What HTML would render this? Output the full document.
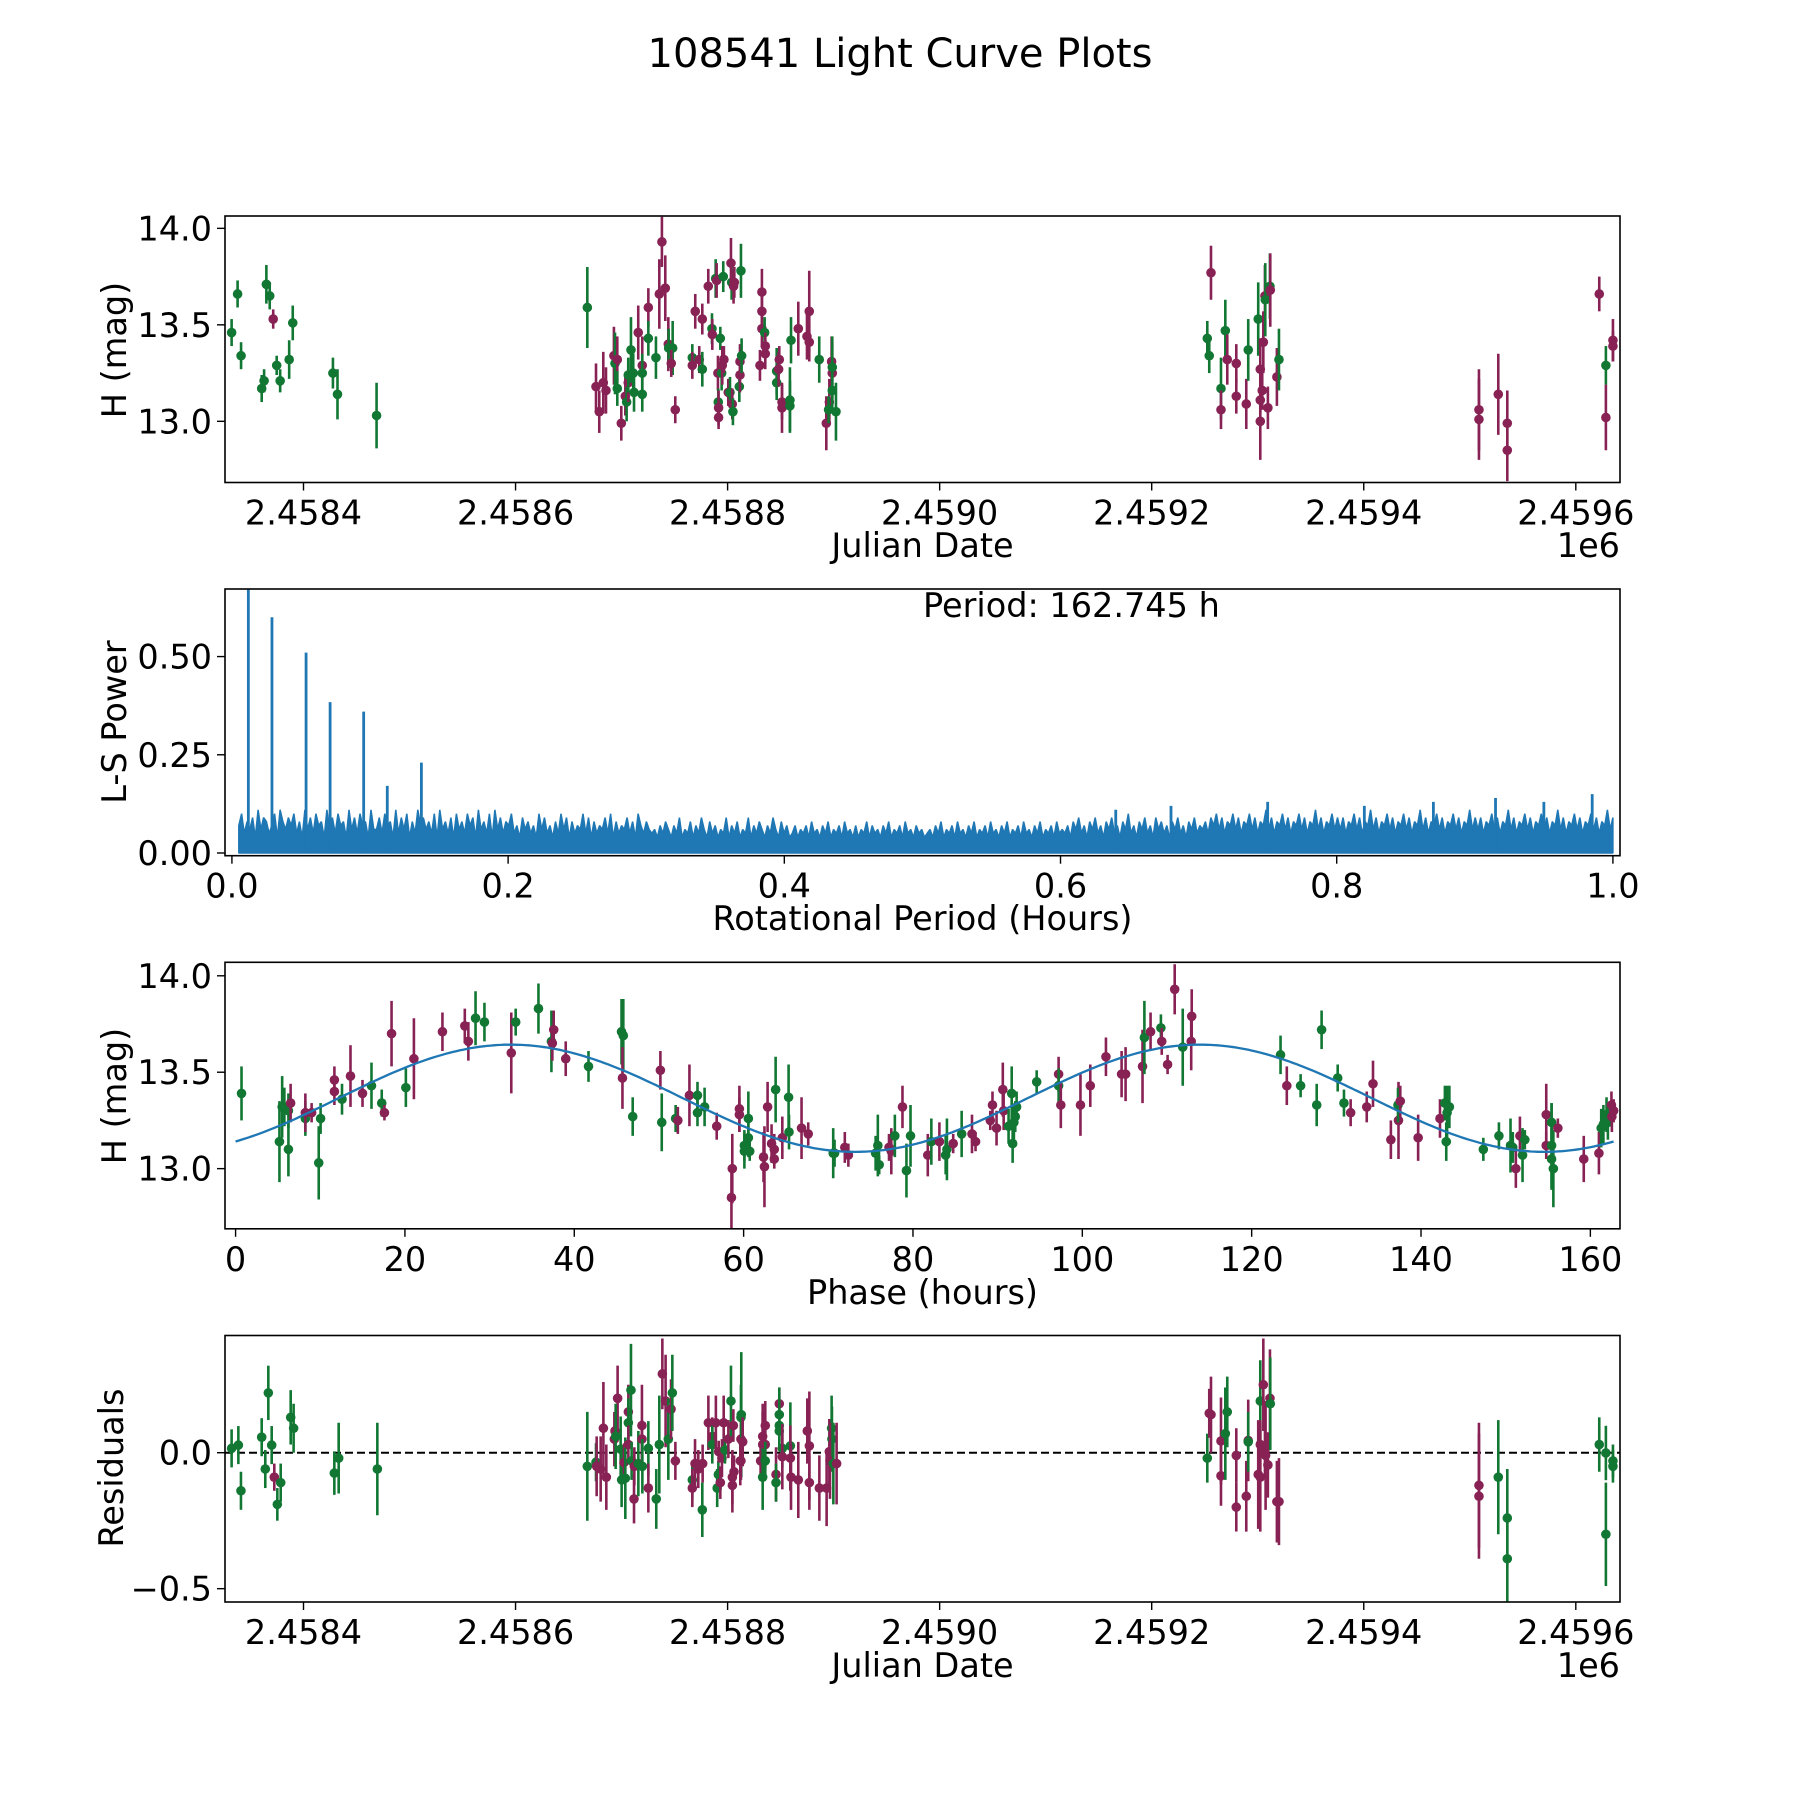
<!DOCTYPE html>
<html><head><meta charset="utf-8"><title>108541 Light Curve Plots</title>
<style>
html,body{margin:0;padding:0;background:#fff;}
svg{display:block;font-family:"DejaVu Sans","Liberation Sans",sans-serif;}
</style></head>
<body>
<svg id="fig" xmlns="http://www.w3.org/2000/svg" width="1800" height="1800" viewBox="0 0 1800 1800">
<rect x="0" y="0" width="1800" height="1800" fill="#fff"/>
<text x="900" y="67" font-size="40" text-anchor="middle" fill="#000">108541 Light Curve Plots</text>
</svg>
<script>
// ---------- Panel 1: light curve (JD offset) ----------
const lcDay = [349.0,354.5,357.7,376.7,378.9,381.0,384.1,387.3,390.5,393.7,402.0,405.3,442.3,446.5,482.5,
676.6,684.6,687.6,691.3,693.8,701.1,702.1,704.2,704.2,707.9,711.6,712.8,714.3,714.3,716.8,718.9,719.6,723.5,727.2,727.2,727.2,732.8,732.8,739.8,742.9,745.3,748.4,751.2,751.5,755.2,753.9,757.6,
773.3,773.3,776.0,779.7,782.5,782.5,788.0,791.4,791.7,794.8,795.7,796.9,797.2,797.5,797.5,799.1,800.3,800.9,801.8,802.4,806.4,808.0,809.5,808.9,810.1,810.7,811.3,812.0,816.6,817.2,817.2,818.1,818.7,
835.6,837.4,837.4,837.4,839.9,840.5,840.5,851.0,851.0,852.8,853.4,855.9,855.9,863.2,863.2,864.2,870.9,878.9,881.0,881.0,890.2,899.5,901.6,902.2,902.2,902.2,896.7,905.6,898.8,
1247.6,1249.4,1251.0,1260.2,1260.2,1264.2,1266.0,1274.3,1274.3,1283.5,1285.3,1294.5,1296.4,1296.4,1296.4,1298.2,1299.2,1300.7,1301.0,1303.4,1305.3,1305.6,1311.7,1313.6,
1497.8,1497.8,1515.6,1523.9,1523.9,1608.6,1614.7,1614.7,1621.2,1621.2];
const lcMag = [13.46,13.66,13.34,13.17,13.21,13.71,13.65,13.53,13.29,13.21,13.32,13.51,13.25,13.14,13.03,
13.59,13.18,13.05,13.20,13.16,13.34,13.30,13.32,13.17,12.99,13.13,13.10,13.20,13.24,13.37,13.25,13.15,13.46,13.29,13.25,13.14,13.59,13.43,13.33,13.66,13.93,13.69,13.40,13.38,13.38,13.30,13.06,
13.33,13.29,13.57,13.32,13.53,13.27,13.70,13.48,13.45,13.74,13.73,13.25,13.10,13.07,13.02,13.43,13.25,13.29,13.75,13.32,13.15,13.15,13.72,13.82,13.09,13.05,13.70,13.72,13.18,13.24,13.31,13.78,13.34,
13.29,13.67,13.57,13.48,13.46,13.39,13.35,13.26,13.20,13.27,13.32,13.10,13.07,13.11,13.08,13.42,13.48,13.44,13.57,13.41,13.32,13.10,13.31,13.25,13.28,13.16,12.99,13.05,13.06,
13.43,13.34,13.77,13.17,13.06,13.47,13.32,13.30,13.13,13.09,13.37,13.53,13.27,13.11,13.00,13.16,13.41,13.65,13.63,13.07,13.70,13.68,13.23,13.32,
13.06,13.01,13.14,12.99,12.85,13.66,13.29,13.02,13.42,13.39];
const lcErr = [0.07,0.07,0.07,0.07,0.06,0.10,0.07,0.05,0.05,0.06,0.10,0.09,0.08,0.13,0.17,
0.21,0.12,0.11,0.16,0.12,0.15,0.16,0.12,0.09,0.09,0.10,0.10,0.10,0.09,0.17,0.10,0.10,0.14,0.15,0.10,0.09,0.10,0.09,0.11,0.18,0.13,0.17,0.14,0.10,0.14,0.07,0.07,
0.07,0.07,0.09,0.07,0.08,0.09,0.09,0.08,0.08,0.10,0.09,0.09,0.07,0.09,0.06,0.06,0.09,0.10,0.08,0.07,0.07,0.08,0.09,0.13,0.08,0.07,0.09,0.08,0.08,0.09,0.09,0.14,0.09,
0.08,0.12,0.09,0.09,0.08,0.07,0.08,0.12,0.09,0.09,0.07,0.09,0.13,0.17,0.13,0.12,0.14,0.12,0.21,0.10,0.12,0.12,0.13,0.16,0.16,0.10,0.14,0.15,0.07,
0.09,0.09,0.14,0.16,0.10,0.16,0.13,0.10,0.09,0.13,0.16,0.19,0.16,0.07,0.20,0.10,0.16,0.16,0.19,0.11,0.17,0.19,0.15,0.16,
0.21,0.21,0.21,0.17,0.16,0.09,0.10,0.17,0.11,0.08];
const lcBand = "gggggggmggggggg"+"gmmmmmgmgmmgmggggmmggmggmmmmggmm"+"gmmmmgmgmgmmgmmggmgmmggmmgmmgmmggm"+"mmmgmmggmmmmgggmmmmgmmmggmgggg"+"mgmgmmmmggmmmmmmgmgmmgmmmm"+"mmgmmmmgmgm";

// ---------- Panel 2: Lomb-Scargle periodogram ----------
const lsNoiseDigits = "58364729476358296475836294738562947385629473856294"+
"47385629374826395746382946372846385729463829473658"+
"35274635284735263847263548372635473826354736285364"+
"34253642537243625374263524372536243725364253742635"+
"23524352634253624352634252436253425362435263425342"+
"34253624352634253624352634253624352634253624352634"+
"35264735264735264735264835264735274635264735264735"+
"46375847365847365847365947365847365847365947365847"+
"47365847365947365847365847365947365847365847365947"+
"47365847365947365847365847365947365847365847365947";
const lsSpikePeriod = [0.0119,0.0290,0.0537,0.0711,0.0954,0.1125,0.1372,0.985,0.915,0.87,0.75,0.68,0.64,0.82,0.95];
const lsSpikePower = [0.70,0.60,0.51,0.384,0.36,0.171,0.23,0.15,0.14,0.13,0.13,0.12,0.11,0.12,0.13];

// ---------- Panel 3: phased light curve ----------
const phHours = [0.70,5.18,5.50,5.76,6.24,6.24,6.50,8.24,8.24,8.98,9.82,10.04,11.67,11.67,12.57,13.57,14.99,16.05,17.26,17.58,18.42,20.11,21.06,24.43,27.07,27.49,28.34,29.39,32.56,33.08,35.77,37.30,37.41,37.57,38.99,41.68,45.58,45.79,45.69,46.90,50.17,50.33,51.97,52.23,53.60,54.55,54.55,55.39,56.82,58.66,58.56,59.50,59.50,60.09,60.09,60.56,60.56,60.72,62.35,62.46,62.83,63.30,63.62,63.62,63.78,64.57,65.31,65.36,66.84,67.63,70.58,70.74,71.95,72.37,75.59,75.85,76.01,77.17,77.44,77.86,78.76,79.23,79.71,
81.75,82.17,83.12,83.86,84.01,84.75,85.75,86.97,87.39,89.13,89.39,89.87,90.61,90.71,91.29,91.66,91.77,91.92,92.08,92.24,94.61,97.20,97.20,97.46,99.78,100.94,102.79,104.64,105.11,107.11,107.33,108.06,109.28,109.38,110.07,110.91,111.86,112.86,112.92,123.41,124.15,125.78,127.68,128.26,130.16,130.90,131.69,133.59,134.33,136.44,137.34,137.28,137.55,139.66,142.24,142.82,142.98,143.08,143.35,147.36,149.20,150.57,150.84,151.20,151.68,151.99,152.26,154.79,154.79,155.42,155.42,155.42,155.63,156.16,159.22,161.01,161.28,161.54,161.91,162.07,162.49,162.54,162.75];
const phMag = [13.39,13.14,13.32,13.32,13.10,13.30,13.34,13.26,13.29,13.29,13.03,13.26,13.46,13.40,13.36,13.48,13.39,13.43,13.34,13.29,13.70,13.42,13.57,13.71,13.74,13.66,13.78,13.76,13.60,13.76,13.83,13.66,13.65,13.72,13.57,13.53,13.71,13.69,13.47,13.27,13.51,13.24,13.26,13.25,13.38,13.38,13.29,13.32,13.22,13.00,12.85,13.31,13.28,13.12,13.09,13.26,13.16,13.09,13.06,13.01,13.32,13.13,13.10,13.05,13.41,13.16,13.37,13.19,13.21,13.18,13.08,13.08,13.11,13.07,13.08,13.12,13.02,13.11,13.09,13.17,13.32,12.99,13.17,
13.07,13.14,13.14,13.07,13.10,13.13,13.18,13.18,13.14,13.25,13.33,13.21,13.41,13.30,13.22,13.39,13.13,13.24,13.27,13.32,13.45,13.49,13.43,13.33,13.33,13.43,13.58,13.49,13.49,13.53,13.68,13.71,13.73,13.66,13.54,13.93,13.63,13.66,13.79,13.59,13.43,13.43,13.33,13.72,13.47,13.34,13.29,13.32,13.44,13.15,13.25,13.33,13.35,13.16,13.26,13.34,13.14,13.29,13.32,13.10,13.17,13.12,13.11,13.00,13.17,13.07,13.15,13.12,13.28,13.24,13.12,13.05,13.00,13.21,13.05,13.08,13.21,13.23,13.28,13.24,13.33,13.27,13.30];
const phErr = [0.14,0.21,0.16,0.10,0.14,0.09,0.10,0.09,0.10,0.05,0.19,0.08,0.07,0.07,0.08,0.16,0.07,0.12,0.07,0.04,0.17,0.10,0.21,0.10,0.09,0.10,0.14,0.10,0.21,0.07,0.13,0.16,0.09,0.10,0.09,0.08,0.17,0.19,0.16,0.10,0.10,0.15,0.07,0.07,0.16,0.07,0.07,0.10,0.07,0.18,0.16,0.12,0.09,0.08,0.09,0.14,0.10,0.05,0.13,0.21,0.13,0.10,0.08,0.05,0.17,0.11,0.17,0.09,0.16,0.06,0.13,0.07,0.08,0.06,0.09,0.16,0.05,0.07,0.12,0.11,0.11,0.14,0.16,
0.11,0.12,0.10,0.10,0.16,0.05,0.12,0.10,0.05,0.05,0.07,0.09,0.14,0.10,0.09,0.14,0.10,0.09,0.08,0.08,0.06,0.09,0.09,0.12,0.16,0.11,0.10,0.12,0.14,0.19,0.19,0.10,0.07,0.07,0.05,0.13,0.20,0.15,0.14,0.10,0.10,0.06,0.11,0.10,0.07,0.07,0.07,0.08,0.12,0.10,0.20,0.09,0.08,0.12,0.10,0.09,0.10,0.14,0.11,0.06,0.07,0.14,0.08,0.10,0.10,0.14,0.05,0.07,0.16,0.10,0.22,0.16,0.20,0.05,0.12,0.11,0.10,0.10,0.09,0.09,0.07,0.08,0.06];
const phBand = "ggggggmgmmggmmgmmggmmgmmmmggmgggmmmgggmgmggmmgggmmmmmgggggmmmmmmgmggmmggmmgggmmgmgg"+
"mgmggmgmmmmmmmgggggggmgmmmmmmmgmgmmmgmmgmgggggmmmmmgmmmggggggggmmggmmggggmmmggggmmm";
const modelMean = 13.365, modelAmp = 0.278, modelPeakHour = 32.5, modelCycleHours = 81.37, modelSpan = 162.745;

// ---------- Panel 4: residuals ----------
const resDay = [349.0,355.2,357.6,376.7,380.0,382.8,385.9,388.3,391.1,394.2,403.4,406.1,443.6,447.6,483.2,
676.6,684.6,685.2,688.9,691.4,694.1,701.5,702.1,704.5,702.7,707.3,708.2,710.4,711.6,714.4,714.4,714.4,716.8,717.4,719.6,719.9,723.6,726.9,726.9,727.3,732.8,732.8,740.1,742.9,745.7,748.7,751.2,753.7,754.9,757.7,
773.3,773.3,775.8,778.8,782.5,782.8,788.1,791.7,791.7,795.0,796.2,797.3,797.6,799.1,800.6,802.2,803.4,806.5,808.9,810.2,810.2,811.1,811.7,817.5,818.1,818.1,
818.4,819.7,818.1,836.2,838.1,838.1,838.1,840.5,840.5,840.5,850.4,850.4,853.4,853.4,853.4,853.4,856.2,856.2,863.6,863.6,864.2,870.9,879.2,881.1,881.1,890.3,897.0,899.5,901.6,901.9,900.1,903.2,906.2,
1247.6,1249.4,1251.0,1260.2,1260.2,1264.2,1266.0,1274.3,1274.3,1283.5,1285.3,1285.3,1294.5,1296.4,1296.4,1296.4,1299.2,1300.7,1301.3,1303.4,1305.3,1305.6,1311.7,1313.6,
1497.8,1497.8,1515.6,1523.9,1523.9,1608.6,1614.7,1614.7,1621.2,1621.2];
const resVal = [0.016,0.028,-0.14,0.057,-0.06,0.22,0.028,-0.09,-0.19,-0.11,0.13,0.09,-0.075,-0.02,-0.06,
-0.05,-0.035,-0.05,-0.06,0.09,-0.09,0.05,0.08,0.20,0.06,0.013,-0.10,-0.036,-0.094,0.15,0.11,0.03,0.23,-0.03,-0.17,-0.05,-0.04,0.05,0.10,-0.05,0.016,-0.13,-0.17,0.03,0.29,0.19,0.05,0.16,0.22,-0.03,
-0.10,-0.13,-0.04,-0.06,-0.21,-0.04,0.11,0.06,0.03,0.11,-0.13,-0.08,0.004,-0.11,-0.02,0.11,0.01,0.05,0.19,-0.09,-0.12,0.10,-0.07,-0.03,0.13,0.05,
0.14,0.04,-0.03,-0.03,0.06,0.03,-0.09,0.10,0.03,-0.03,-0.08,-0.11,0.18,0.14,0.10,0.08,0.016,-0.015,0.025,-0.02,-0.09,-0.10,0.08,0.025,-0.11,-0.13,-0.13,0.004,0.09,0.05,-0.03,-0.04,-0.04,
-0.02,0.145,0.14,0.043,-0.085,0.07,0.15,-0.01,-0.20,-0.16,0.045,0.04,-0.08,0.19,0.03,-0.09,0.25,0.01,-0.01,-0.045,0.20,0.18,-0.18,-0.18,
-0.12,-0.16,-0.09,-0.24,-0.39,0.03,-0.001,-0.30,-0.03,-0.05];
const resErr = [0.07,0.07,0.07,0.07,0.07,0.10,0.07,0.05,0.06,0.07,0.10,0.09,0.08,0.13,0.17,
0.20,0.07,0.11,0.12,0.17,0.12,0.10,0.06,0.12,0.12,0.12,0.10,0.07,0.15,0.10,0.09,0.07,0.17,0.07,0.09,0.07,0.12,0.07,0.15,0.10,0.10,0.09,0.11,0.18,0.13,0.17,0.15,0.11,0.14,0.07,
0.07,0.07,0.09,0.07,0.10,0.07,0.10,0.07,0.07,0.10,0.07,0.05,0.04,0.06,0.07,0.10,0.05,0.07,0.13,0.10,0.10,0.06,0.06,0.09,0.12,0.06,
0.23,0.09,0.07,0.06,0.12,0.12,0.12,0.09,0.09,0.07,0.10,0.07,0.06,0.10,0.07,0.07,0.07,0.12,0.16,0.12,0.12,0.14,0.12,0.20,0.10,0.12,0.14,0.12,0.12,0.12,0.14,0.15,0.15,
0.09,0.09,0.14,0.16,0.11,0.17,0.13,0.10,0.09,0.13,0.15,0.11,0.20,0.15,0.09,0.20,0.17,0.10,0.20,0.12,0.18,0.17,0.15,0.16,
0.23,0.23,0.21,0.18,0.16,0.10,0.10,0.19,0.06,0.06];
const resBand = "gggggggmggggggg"+"ggmmmmmmmgggmgmgmggmmgmmggmggmmgmgm"+"gmmmgmmmgmggmmmmgmgmmmmmgm"+"gmmmmmgmmgmgmggggmgmmmmmmmmmgg"+"mgmgmmmmggmmmmgmgmmmmm"+"mmgmmmmgg";

// tick definitions (JD offset units of the arrays above)
const jdTickDays = [415.2,610.5,805.8,1001.1,1196.4,1391.7,1587.0];
const jdTickLabels = ["2.4584","2.4586","2.4588","2.4590","2.4592","2.4594","2.4596"];
const magTicks = [13.0,13.5,14.0];
const magTickLabels = ["13.0","13.5","14.0"];
const lsXTicks = [0,0.2,0.4,0.6,0.8,1.0];
const lsXTickLabels = ["0.0","0.2","0.4","0.6","0.8","1.0"];
const lsYTicks = [0,0.25,0.5];
const lsYTickLabels = ["0.00","0.25","0.50"];
const phXTicks = [0,20,40,60,80,100,120,140,160];
const phXTickLabels = ["0","20","40","60","80","100","120","140","160"];
const resYTicks = [-0.5,0.0];
const resYTickLabels = ["\u22120.5","0.0"];

const NS = "http://www.w3.org/2000/svg";
const fig = document.getElementById('fig');
const GREEN = "#117733", MAROON = "#882255", BLUE = "#1f77b4";
const FS = 33.5;
function mk(tag, attrs, parent){
  const e = document.createElementNS(NS, tag);
  for (const k in attrs) e.setAttribute(k, attrs[k]);
  (parent || fig).appendChild(e);
  return e;
}
function makeAxis(L, T, R, B, xmin, xmax, ymin, ymax){
  return {L, T, R, B,
    sx: v => L + (v - xmin) / (xmax - xmin) * (R - L),
    sy: v => B - (v - ymin) / (ymax - ymin) * (B - T)};
}
function frame(ax, name){
  const r = mk('rect', {x: ax.L, y: ax.T, width: ax.R - ax.L, height: ax.B - ax.T, fill: 'none', stroke: '#000', 'stroke-width': 1.6});
  
  
}
function clipFor(ax, id){
  let defs = fig.querySelector('defs') || mk('defs', {});
  const cp = mk('clipPath', {id: id}, defs);
  mk('rect', {x: ax.L, y: ax.T, width: ax.R - ax.L, height: ax.B - ax.T}, cp);
  const g = mk('g', {'clip-path': 'url(#' + id + ')'});
  
  
  return g;
}
function xTicks(ax, vals, labels, name){
  vals.forEach((v, i) => {
    const x = ax.sx(v);
    const t = mk('line', {x1: x, x2: x, y1: ax.B, y2: ax.B + 8, stroke: '#000', 'stroke-width': 1.4});
    
    
    const tx = mk('text', {x: x, y: ax.B + 42, 'font-size': FS, 'text-anchor': 'middle'});
    tx.textContent = labels[i];
    
    
  });
}
function yTicks(ax, vals, labels, name){
  vals.forEach((v, i) => {
    const y = ax.sy(v);
    const t = mk('line', {x1: ax.L - 8, x2: ax.L, y1: y, y2: y, stroke: '#000', 'stroke-width': 1.4});
    
    
    const tx = mk('text', {x: ax.L - 13, y: y + 12, 'font-size': FS, 'text-anchor': 'end'});
    tx.textContent = labels[i];
    
    
  });
}
function label(x, y, text, rot, name){
  const t = mk('text', {x: x, y: y, 'font-size': FS, 'text-anchor': 'middle'});
  if (rot) t.setAttribute('transform', 'rotate(-90 ' + x + ' ' + y + ')');
  t.textContent = text;
  
  
}
function errorbars(g, ax, xs, ys, es, bands, name){
  xs.forEach((xv, i) => {
    const c = bands[i] === 'm' ? MAROON : GREEN;
    const x = ax.sx(xv), y = ax.sy(ys[i]);
    const l = mk('line', {x1: x, x2: x, y1: ax.sy(ys[i] + es[i]), y2: ax.sy(ys[i] - es[i]), stroke: c, 'stroke-width': 2.6}, g);
    
    
    const p = mk('circle', {cx: x, cy: y, r: 4.8, fill: c}, g);
    
    
  });
}

// Panel 1
const ax1 = makeAxis(225, 216, 1620, 482.5, 342.9, 1627.7, 12.683, 14.064);
const g1 = clipFor(ax1, 'lightcurve');
errorbars(g1, ax1, lcDay, lcMag, lcErr, lcBand, 'lightcurve');
frame(ax1, 'lightcurve');
xTicks(ax1, jdTickDays, jdTickLabels, 'lightcurve');
yTicks(ax1, magTicks, magTickLabels, 'lightcurve');
label(922.5, 557, 'Julian Date', false, 'lightcurve-x-axis-title');
label(126, 350, 'H (mag)', true, 'lightcurve-y-axis-title');
const off1 = mk('text', {x: 1620, y: 557, 'font-size': FS, 'text-anchor': 'end'});
off1.textContent = '1e6';



// Panel 2
const ax2 = makeAxis(225, 589, 1620, 855.7, -0.00501, 1.00513, -0.0069, 0.672);
const g2 = clipFor(ax2, 'periodogram');
const nBins = lsNoiseDigits.length;
let d = 'M' + ax2.sx(0.005).toFixed(1) + ' ' + ax2.sy(0).toFixed(1);
for (let i = 0; i < nBins; i++){
  const p = 0.005 + (i / (nBins - 1)) * 0.995;
  const v = 0.02 + Number(lsNoiseDigits[i]) * 0.01;
  d += 'L' + ax2.sx(p).toFixed(1) + ' ' + ax2.sy(v).toFixed(1);
}
d += 'L' + ax2.sx(1.0).toFixed(1) + ' ' + ax2.sy(0).toFixed(1) + 'Z';
const noise = mk('path', {d: d, stroke: BLUE, 'stroke-width': 1.5, fill: BLUE, 'stroke-linejoin': 'bevel'}, g2);


lsSpikePeriod.forEach((p, i) => {
  const s = mk('line', {x1: ax2.sx(p), x2: ax2.sx(p), y1: ax2.sy(0), y2: ax2.sy(lsSpikePower[i]), stroke: BLUE, 'stroke-width': 2.8}, g2);
  
  
});
frame(ax2, 'periodogram');
xTicks(ax2, lsXTicks, lsXTickLabels, 'periodogram');
yTicks(ax2, lsYTicks, lsYTickLabels, 'periodogram');
label(922.5, 930, 'Rotational Period (Hours)', false, 'periodogram-x-axis-title');
label(126, 722, 'L-S Power', true, 'periodogram-y-axis-title');
const per = mk('text', {x: 923, y: 617, 'font-size': FS, 'text-anchor': 'start'});
per.textContent = 'Period: 162.745 h';



// Panel 3
const ax3 = makeAxis(225, 962.3, 1620, 1228.8, -1.25, 163.5, 12.688, 14.070);
const g3 = clipFor(ax3, 'phased');
errorbars(g3, ax3, phHours, phMag, phErr, phBand, 'phased');
let md = '';
for (let i = 0; i <= 400; i++){
  const h = modelSpan * i / 400;
  const m = modelMean + modelAmp * Math.cos(2 * Math.PI * (h - modelPeakHour) / modelCycleHours);
  md += (i ? 'L' : 'M') + ax3.sx(h).toFixed(1) + ' ' + ax3.sy(m).toFixed(1);
}
const mdl = mk('path', {d: md, stroke: BLUE, 'stroke-width': 2.3, fill: 'none'}, g3);


frame(ax3, 'phased');
xTicks(ax3, phXTicks, phXTickLabels, 'phased');
yTicks(ax3, magTicks, magTickLabels, 'phased');
label(922.5, 1304, 'Phase (hours)', false, 'phased-x-axis-title');
label(126, 1096, 'H (mag)', true, 'phased-y-axis-title');

// Panel 4
const ax4 = makeAxis(225, 1335.5, 1620, 1602, 342.9, 1627.7, -0.549, 0.431);
const g4 = clipFor(ax4, 'residuals');
const zl = mk('line', {x1: ax4.L, x2: ax4.R, y1: ax4.sy(0), y2: ax4.sy(0), stroke: '#000', 'stroke-width': 2, 'stroke-dasharray': '8,4'}, g4);


errorbars(g4, ax4, resDay, resVal, resErr, resBand, 'residuals');
frame(ax4, 'residuals');
xTicks(ax4, jdTickDays, jdTickLabels, 'residuals');
yTicks(ax4, resYTicks, resYTickLabels, 'residuals');
label(922.5, 1677, 'Julian Date', false, 'residuals-x-axis-title');
label(123, 1468, 'Residuals', true, 'residuals-y-axis-title');
const off4 = mk('text', {x: 1620, y: 1677, 'font-size': FS, 'text-anchor': 'end'});
off4.textContent = '1e6';


</script>
</body></html>
